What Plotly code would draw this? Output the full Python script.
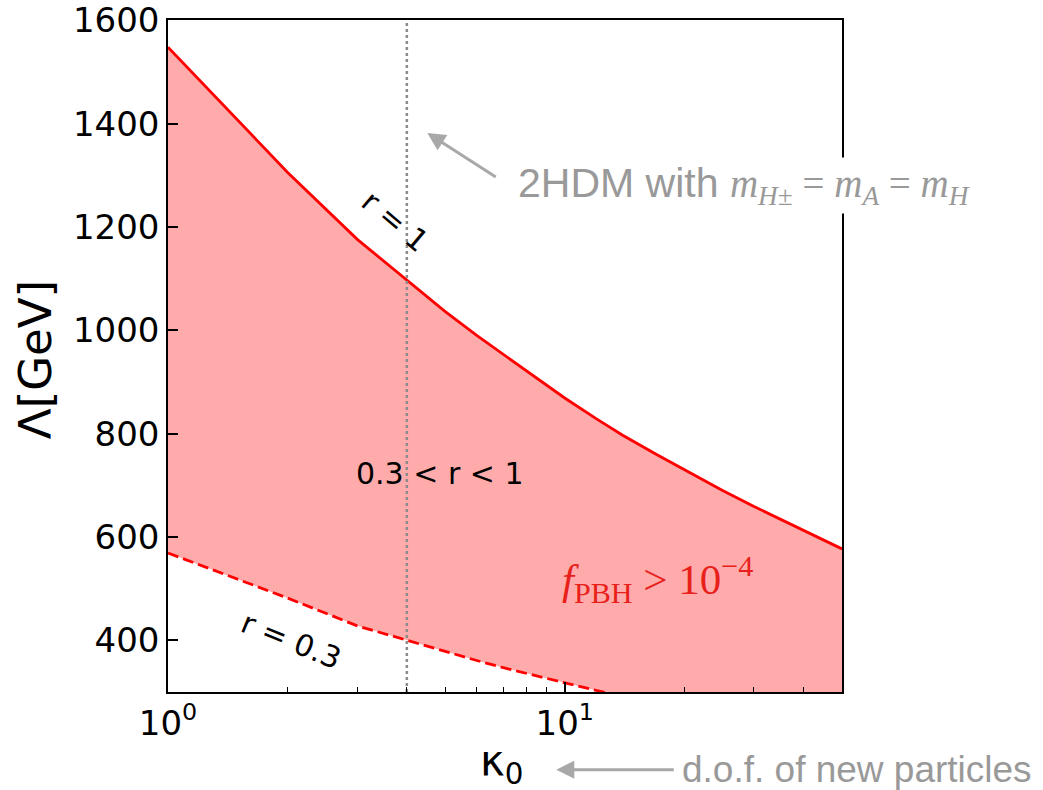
import plotly.graph_objects as go

# ---- data ----
kappa = [1, 2, 3, 4, 5, 6, 7, 8, 10, 12, 14, 17, 20, 25, 30, 40, 50]
lam_r1 = [1548, 1306, 1176, 1098, 1036, 990, 953, 921, 869, 829, 797, 760, 730, 690, 659, 613, 577]
lam_r03 = [569, 482, 428, 400, 378, 361, 347, 336, 318, 303, 292, 279, 268, 253, 242, 225, 211]
kappa_2hdm = 4
yticks = [400, 600, 800, 1000, 1200, 1400, 1600]
xticks = [1, 10]
xticktext = ["10<sup>0</sup>", "10<sup>1</sup>"]
xminor = [2, 3, 4, 5, 6, 7, 8, 9, 20, 30, 40]

# ---- layout geometry (pixels) ----
W, H = 1043, 790
L, R, T, B = 167.7, 841.7, 20, 692.3


def px(x):
    return (x - L) / (R - L)


def py(y):
    return (B - y) / (B - T)


fig = go.Figure()
fig.add_trace(go.Scatter(x=kappa, y=lam_r03, mode="lines",
                         line=dict(color="#ff0000", width=2.8, dash="11px,5px"),
                         showlegend=False, hoverinfo="skip"))
fig.add_trace(go.Scatter(x=kappa, y=lam_r1, mode="lines", fill="tonexty",
                         fillcolor="rgba(255,0,0,0.33)",
                         line=dict(color="#ff0000", width=2.8),
                         showlegend=False, hoverinfo="skip"))
fig.add_trace(go.Scatter(x=[kappa_2hdm, kappa_2hdm], y=[300, 1600], mode="lines",
                         line=dict(color="#8c8c8c", width=2.5, dash="dot"),
                         showlegend=False, hoverinfo="skip", cliponaxis=False))


def text_ann(x, y, text, size, color="black", family="DejaVu Sans", angle=0,
             xanchor="center", **kw):
    d = dict(x=px(x), y=py(y), xref="paper", yref="paper", text=text,
             showarrow=False, textangle=angle, xanchor=xanchor, yanchor="middle",
             font=dict(family=family, size=size, color=color))
    d.update(kw)
    return d


ann = []
ann.append(text_ann(395, 222, "r = 1", 30, angle=40))
ann.append(text_ann(440, 474, "0.3 < r < 1", 30))
ann.append(text_ann(291, 641, "r = 0.3", 30, angle=22))
ann.append(text_ann(657, 580, "<i>f</i><sub>PBH</sub> &gt; 10<sup>−4</sup>", 43,
                    color="#e8201a", family="Liberation Serif"))
# 2HDM annotation with arrow
ann.append(dict(x=px(427), y=py(133), xref="paper", yref="paper", text="",
                showarrow=True, ax=70, ay=45, arrowhead=2, arrowsize=1.2,
                arrowwidth=3, arrowcolor="#a8a8a8"))
ann.append(text_ann(515, 186,
                    ("2HDM with <span style='font-family:Liberation Serif;font-size:39px'>"
                     "<i>m</i><sub><i>H</i>±</sub> = <i>m</i><sub><i>A</i></sub>"
                     " = <i>m</i><sub><i>H</i></sub></span>"),
                    41, color="#999999", family="Liberation Sans", xanchor="left",
                    bgcolor="white", borderpad=2))
# axis titles
ann.append(text_ann(36, 360, "Λ[GeV]", 45, angle=-90))
ann.append(text_ann(501, 764, "κ<sub>0</sub>", 42))
ann.append(dict(x=px(556), y=py(770), xref="paper", yref="paper", text="",
                showarrow=True, ax=119, ay=0, arrowhead=2, arrowsize=1.2,
                arrowwidth=3, arrowcolor="#a8a8a8"))
ann.append(text_ann(680, 770, "d.o.f. of new particles", 37, color="#999999",
                    family="Liberation Sans", xanchor="left"))

fig.update_layout(
    width=W, height=H,
    margin=dict(l=L, r=W - R, t=T, b=H - B, autoexpand=False),
    paper_bgcolor="white", plot_bgcolor="white",
    annotations=ann,
    xaxis=dict(type="log", range=[0, 1.69897], tickvals=xticks, ticktext=xticktext,
               ticks="inside", ticklen=10, tickwidth=1.5, tickcolor="black",
               showline=True, linecolor="black", linewidth=1.5, mirror=True,
               showgrid=False, zeroline=False, ticklabeloverflow="allow",
               automargin=False,
               tickfont=dict(family="DejaVu Sans", size=34, color="black"),
               minor=dict(tickvals=xminor, ticks="inside", ticklen=5,
                          tickwidth=1.2, tickcolor="black", showgrid=False)),
    yaxis=dict(range=[300, 1600.5], tickvals=yticks,
               ticks="inside", ticklen=10, tickwidth=1.5, tickcolor="black",
               showline=True, linecolor="black", linewidth=1.5, mirror=True,
               showgrid=False, zeroline=False, ticklabeloverflow="allow",
               automargin=False,
               tickfont=dict(family="DejaVu Sans", size=34, color="black")),
)

fig.write_html("out.html")
